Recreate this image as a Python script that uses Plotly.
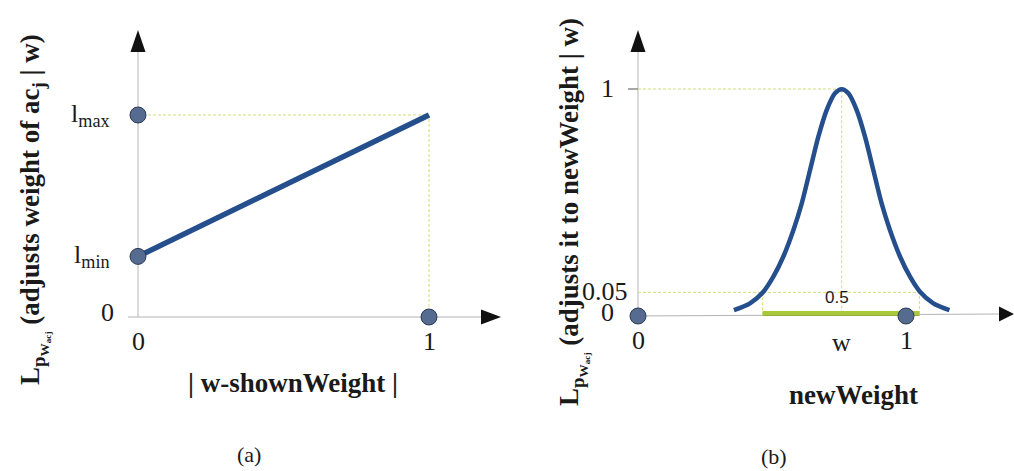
import plotly.graph_objects as go

# ---------------- data ----------------
# panel (a): linear loss vs |w - shownWeight|
a_x = [0, 1]
a_y = [0.3, 1.0]                 # l_min at 0, l_max at 1
a_dot_x = [0, 0, 1]
a_dot_y = [1.0, 0.3, 0]
a_xtick_vals = [0, 1]
a_xtick_text = ["0", "1"]
a_ytick_vals = [0, 0.3, 1.0]
a_ytick_text = ["0", "l<sub>min</sub>", "l<sub>max</sub>"]

# panel (b): bell-shaped loss vs newWeight
b_x = [0.358, 0.418, 0.468, 0.505, 0.542, 0.580, 0.611, 0.642, 0.673, 0.704, 0.735, 0.760,
       0.785, 0.816, 0.847, 0.878, 0.909, 0.940, 0.978, 1.015, 1.052, 1.102, 1.162]
b_y = [0.026, 0.056, 0.107, 0.173, 0.261, 0.379, 0.496, 0.643, 0.790, 0.907, 0.981, 0.999,
       0.981, 0.907, 0.790, 0.643, 0.496, 0.379, 0.261, 0.173, 0.107, 0.056, 0.026]
b_dot_x = [0, 1]
b_dot_y = [0, 0]
b_w = 0.76
b_thr = 0.104                    # level labelled "0.05"
b_bar = [0.465, 1.05]            # accepted interval (green bar)
b_xtick_vals = [0, 0.76, 1]
b_xtick_text = ["0", "w", "1"]
b_ytick_vals = [0, 0.104, 1]
b_ytick_text = ["0", "0.05", "1"]

# ---------------- layout geometry (pixels) ----------------
W, H = 1014, 471
def fx(px): return px / W
def fy(py): return 1 - py / H

A_OX, A_OY, A_UX, A_UY = 138, 317, 291, 202
B_OX, B_OY, B_UX, B_UY = 638, 316, 268, 227

BLUE = "#244f8c"
DOT = "#556b90"
DOT_EDGE = "#2c3a55"
GREEN = "#a8c83a"
GUIDE = "#cfe07a"
AXIS = "#b4b4b4"
SERIF = "Liberation Serif"

fig = go.Figure()

# guides (dashed)
guide = dict(color=GUIDE, width=1, dash="3px,2px")
fig.add_trace(go.Scatter(x=[0, a_x[1], a_x[1]], y=[a_y[1], a_y[1], 0], mode="lines",
                         line=guide, xaxis="x", yaxis="y", hoverinfo="skip"))
fig.add_trace(go.Scatter(x=[0, b_w, b_w], y=[1, 1, 0], mode="lines",
                         line=guide, xaxis="x2", yaxis="y2", hoverinfo="skip"))
fig.add_trace(go.Scatter(x=[0, b_bar[1], b_bar[1], None, b_bar[0], b_bar[0]],
                         y=[b_thr, b_thr, 0, None, b_thr, 0], mode="lines",
                         line=guide, xaxis="x2", yaxis="y2", hoverinfo="skip"))

# green interval bar
fig.add_trace(go.Scatter(x=b_bar, y=[0, 0], mode="lines", line=dict(color=GREEN, width=10),
                         xaxis="x2", yaxis="y2", cliponaxis=False, hoverinfo="skip"))
# axis line seen through the bar
fig.add_trace(go.Scatter(x=b_bar, y=[0, 0], mode="lines", line=dict(color="#7f9a3a", width=1),
                         xaxis="x2", yaxis="y2", cliponaxis=False, hoverinfo="skip"))

# curves
fig.add_trace(go.Scatter(x=a_x, y=a_y, mode="lines", line=dict(color=BLUE, width=5.5),
                         xaxis="x", yaxis="y", cliponaxis=False))
fig.add_trace(go.Scatter(x=b_x, y=b_y, mode="lines",
                         line=dict(color=BLUE, width=4.5, shape="spline", smoothing=0.8),
                         xaxis="x2", yaxis="y2", cliponaxis=False))

# dots
mk = dict(size=16, color=DOT, line=dict(color=DOT_EDGE, width=1))
fig.add_trace(go.Scatter(x=a_dot_x, y=a_dot_y, mode="markers", marker=mk,
                         xaxis="x", yaxis="y", cliponaxis=False))
fig.add_trace(go.Scatter(x=b_dot_x, y=b_dot_y, mode="markers", marker=mk,
                         xaxis="x2", yaxis="y2", cliponaxis=False))

# ---------------- axes lines & arrows (decoration) ----------------
shapes = []
def seg(x0, y0, x1, y1, color=AXIS, width=1):
    shapes.append(dict(type="line", xref="paper", yref="paper",
                       x0=fx(x0), y0=fy(y0), x1=fx(x1), y1=fy(y1),
                       line=dict(color=color, width=width), layer="below"))
def arrow_up(cx, tip, base, hw=7.5):
    shapes.append(dict(type="path", xref="paper", yref="paper",
                       path=f"M {fx(cx-hw)} {fy(base)} L {fx(cx)} {fy(tip)} L {fx(cx+hw)} {fy(base)} Z",
                       fillcolor="#111111", line=dict(width=0)))
def arrow_right(cy, tip, base, hh=7.5):
    shapes.append(dict(type="path", xref="paper", yref="paper",
                       path=f"M {fx(base)} {fy(cy-hh)} L {fx(tip)} {fy(cy)} L {fx(base)} {fy(cy+hh)} Z",
                       fillcolor="#111111", line=dict(width=0)))

seg(A_OX, A_OY, A_OX, 52)
seg(128, A_OY, 482, A_OY)
arrow_up(A_OX, 30, 52)
arrow_right(A_OY, 501, 481)

seg(B_OX, B_OY, B_OX, 52)
seg(630, B_OY, 1000, 314)
arrow_up(B_OX, 30, 52)
arrow_right(314, 1014, 999)
seg(628, B_OY - B_UY, B_OX, B_OY - B_UY, color="#8a8a8a", width=1.5)

# ---------------- text ----------------
ann = []
txt = dict(family=SERIF, size=26, color="#1a1a1a")
for v, t in zip(a_xtick_vals, a_xtick_text):
    ann.append(dict(x=v, y=0, xref="x", yref="y", text=t, showarrow=False,
                    xanchor="center", yanchor="middle", yshift=-24, font=txt))
for v, t in zip(a_ytick_vals, a_ytick_text):
    ann.append(dict(x=0, y=v, xref="x", yref="y", text=t, showarrow=False,
                    xanchor="right", yanchor="middle", xshift=-26 if v else -22,
                    yshift=5 if v == 0 else 0, font=txt))
for v, t in zip(b_xtick_vals, b_xtick_text):
    ann.append(dict(x=v, y=0, xref="x2", yref="y2", text=t, showarrow=False,
                    xanchor="center", yanchor="middle", yshift=-26 if t == "w" else -24, font=txt))
for v, t in zip(b_ytick_vals, b_ytick_text):
    ann.append(dict(x=0, y=v, xref="x2", yref="y2", text=t, showarrow=False,
                    xanchor="right", yanchor="middle", xshift=-8 if t == "0.05" else -22,
                    yshift=4 if v == 0 else 1, font=txt))
ann.append(dict(x=(b_bar[0] + b_bar[1]) / 2 - 0.015, y=b_thr, xref="x2", yref="y2", text="0.5",
                showarrow=False, xanchor="center", yanchor="middle", yshift=-5,
                font=dict(family="Liberation Sans", size=17, color="#1a1a1a")))

bold = dict(family=SERIF, size=27, color="#1a1a1a")
def label(px, py, text, font, angle=0):
    ann.append(dict(x=fx(px), y=fy(py), xref="paper", yref="paper", showarrow=False,
                    xanchor="center", yanchor="middle", textangle=angle, text=text, font=font))

label(293, 383, "<b>| w-shownWeight |</b>", bold)
label(853, 395, "<b>newWeight</b>", bold)
label(249, 454, "(a)", dict(family=SERIF, size=22, color="#1a1a1a"))
label(774, 456, "(b)", dict(family=SERIF, size=22, color="#1a1a1a"))
label(34, 210, "<b>L<sub>p<sub>W<sub>acj</sub></sub></sub> (adjusts weight of ac<sub>j</sub> | w)</b>",
      bold, -90)
label(573, 212, "<b>L<sub>p<sub>W<sub>acj</sub></sub></sub> (adjusts it to newWeight | w)</b>",
      bold, -90)

hidden = dict(showgrid=False, zeroline=False, showline=False, showticklabels=False, ticks="")
fig.update_layout(
    width=W, height=H, margin=dict(l=0, r=0, t=0, b=0),
    paper_bgcolor="white", plot_bgcolor="rgba(0,0,0,0)", showlegend=False,
    xaxis=dict(domain=[fx(100), fx(520)], range=[(100 - A_OX) / A_UX, (520 - A_OX) / A_UX],
               anchor="y", **hidden),
    yaxis=dict(domain=[fy(A_OY), fy(25)], range=[0, (A_OY - 25) / A_UY], anchor="x", **hidden),
    xaxis2=dict(domain=[fx(600), fx(1014)], range=[(600 - B_OX) / B_UX, (1014 - B_OX) / B_UX],
                anchor="y2", **hidden),
    yaxis2=dict(domain=[fy(B_OY), fy(10)], range=[0, (B_OY - 10) / B_UY], anchor="x2", **hidden),
    shapes=shapes, annotations=ann,
)
fig.write_html("out.html", config={"displayModeBar": False},
               post_script="document.body.style.margin='0';document.body.style.overflow='hidden';")
